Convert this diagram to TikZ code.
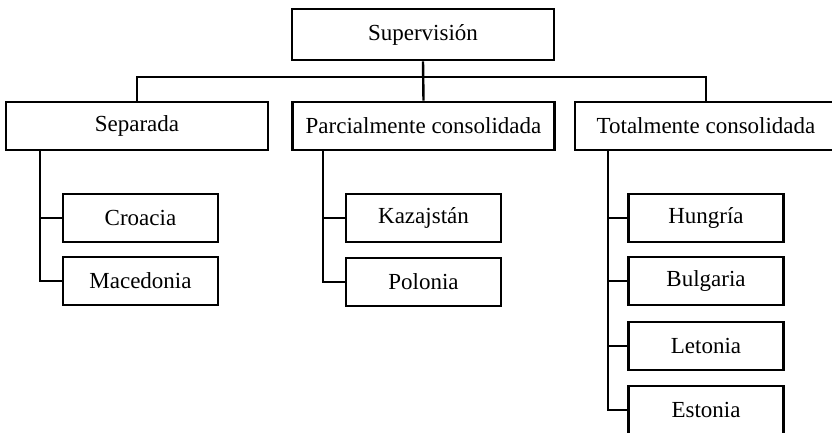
\documentclass[tikz,border=0pt]{standalone}
\usepackage{fontspec}
\setmainfont{Liberation Serif}
\begin{document}
\begin{tikzpicture}[x=1pt,y=-1pt,
    box/.style={draw,line width=2.6pt,inner sep=0pt,minimum height=48pt,
      font=\fontsize{23}{27}\selectfont},
    bigbox/.style={box,minimum width=262pt},
    smallbox/.style={box,minimum width=155pt},
    link/.style={line width=2.4pt}]
  \useasboundingbox (0,0) rectangle (832,433);
  \draw
    (423,34.5) node[bigbox,minimum height=51pt] (sup){Supervisión}
    (137,126) node[bigbox] (sep){Separada}
    (423.5,126) node[bigbox] (par){Parcialmente consolidada}
    (706,126) node[bigbox] (tot){Totalmente consolidada}
    (140.5,218) node[smallbox] (cro){Croacia}
    (140.5,281) node[smallbox] (mac){Macedonia}
    (423.5,218) node[smallbox] (kaz){Kazajstán}
    (423.5,282) node[smallbox] (pol){Polonia}
    (706,218) node[smallbox] (hun){Hungría}
    (706,281) node[smallbox] (bul){Bulgaria}
    (706,346) node[smallbox] (let){Letonia}
    (706,410) node[smallbox] (est){Estonia};
  \coordinate (bus) at (423,77);
  \coordinate (sepline) at ([xshift=35pt]sep.south west);
  \coordinate (parline) at ([xshift=32pt]par.south west);
  \coordinate (totline) at ([xshift=34pt]tot.south west);
  \begin{scope}[link]
    \draw (sup.south) -- (par.north);
    \draw (sep.north) |- (bus) -| (tot.north);
    \draw (sepline) |- (mac.west);
    \draw (sepline |- cro.west) -- (cro.west);
    \draw (parline) |- (pol.west);
    \draw (parline |- kaz.west) -- (kaz.west);
    \draw (totline) |- (est.west);
    \draw (totline |- hun.west) -- (hun.west);
    \draw (totline |- bul.west) -- (bul.west);
    \draw (totline |- let.west) -- (let.west);
  \end{scope}
\end{tikzpicture}
\end{document}
